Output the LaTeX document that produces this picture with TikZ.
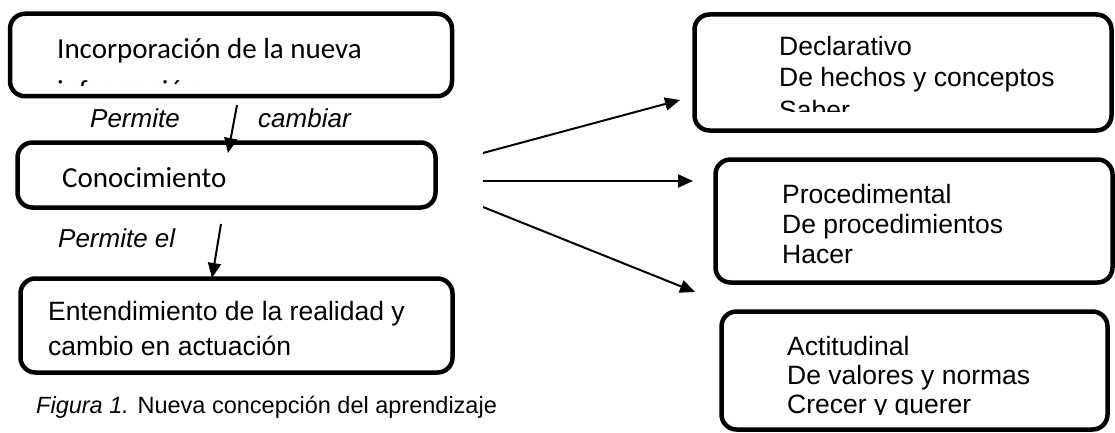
\documentclass[tikz,border=0pt]{standalone}
\usepackage{fontspec}
\setmainfont{Liberation Sans}
\newfontfamily\calib{Carlito}
\usetikzlibrary{arrows.meta}
\tikzset{
  boxshape/.style={draw=black, line width=4.5pt, rounded corners=15pt, inner sep=0pt},
  arialtxt/.style={inner sep=0pt, anchor=base west, font=\fontsize{26.5}{31}\selectfont},
  calitxt/.style={inner sep=0pt, anchor=base west, font=\calib\fontsize{29}{35}\selectfont},
  labtxt/.style={inner sep=0pt, anchor=base west, font=\fontsize{26}{31}\selectfont\itshape},
  captxt/.style={inner sep=0pt, anchor=base west, font=\fontsize{23.5}{28}\selectfont},
  arr/.style={line width=2pt, -{Triangle[length=15pt,width=13pt]}}
}
\begin{document}
\begin{tikzpicture}[x=1pt,y=-1pt]
\useasboundingbox (0,0) rectangle (1115,433);
% left boxes
\node[boxshape, minimum width=442pt, minimum height=82.5pt] (inc) at (231,55) {};
\node[boxshape, minimum width=418pt, minimum height=65pt] (con) at (226.5,175) {};
\node[boxshape, minimum width=432pt, minimum height=94pt] (ent) at (236.5,325.5) {};
% right boxes
\node[boxshape, minimum width=417pt, minimum height=116pt] (dec) at (903,72.5) {};
\node[boxshape, minimum width=397pt, minimum height=123pt] (pro) at (914,221) {};
\node[boxshape, minimum width=386pt, minimum height=118pt] (act) at (914.5,370.5) {};
% texts
\node[calitxt] (inc1) at (57,59) {Incorporación de la nueva};
\begin{scope}
\clip (20,70) rectangle (440,86);
\node[calitxt] (inc2) at (57,101) {información};
\end{scope}
\node[calitxt] (con1) at (62,187) {Conocimiento};
\node[arialtxt] (ent1) at (48,320) {Entendimiento de la realidad y};
\node[arialtxt] (ent2) at (48,355) {cambio en actuación};
\node[labtxt] (lab1) at (90,128) {Permite};
\node[labtxt] (lab2) at (258,128) {cambiar};
\node[labtxt] (lab3) at (58,247) {Permite el};
\node[captxt] (cap) at (36,413) {\textit{Figura 1.} Nueva concepción del aprendizaje};
\node[arialtxt] (dec1) at (779,56) {Declarativo};
\node[arialtxt] (dec2) at (779,87) {De hechos y conceptos};
\begin{scope}
\clip (700,95) rectangle (1100,112);
\node[arialtxt] (dec3) at (779,119) {Saber};
\end{scope}
\node[arialtxt] (pro1) at (782,203) {Procedimental};
\node[arialtxt] (pro2) at (782,233) {De procedimientos};
\node[arialtxt] (pro3) at (782,263) {Hacer};
\node[arialtxt] (act1) at (787,355) {Actitudinal};
\node[arialtxt] (act2) at (787,384) {De valores y normas};
\begin{scope}
\clip (730,390) rectangle (1100,414);
\node[arialtxt] (act3) at (787,413) {Crecer y querer};
\end{scope}
% connectors
\coordinate (a1s) at (237,105);
\coordinate (a1e) at (228,153);
\coordinate (a2s) at (221,224);
\coordinate (a2e) at (212,278);
\coordinate (a3s) at (483,153);
\coordinate (a3e) at (680,100);
\coordinate (a4s) at (483,181);
\coordinate (a4e) at (693,181);
\coordinate (a5s) at (483,207);
\coordinate (a5e) at (695,292);
\draw[arr] (a1s) -- (a1e);
\draw[arr] (a2s) -- (a2e);
\draw[arr] (a3s) -- (a3e);
\draw[arr] (a4s) -- (a4e);
\draw[arr] (a5s) -- (a5e);
\end{tikzpicture}
\end{document}
